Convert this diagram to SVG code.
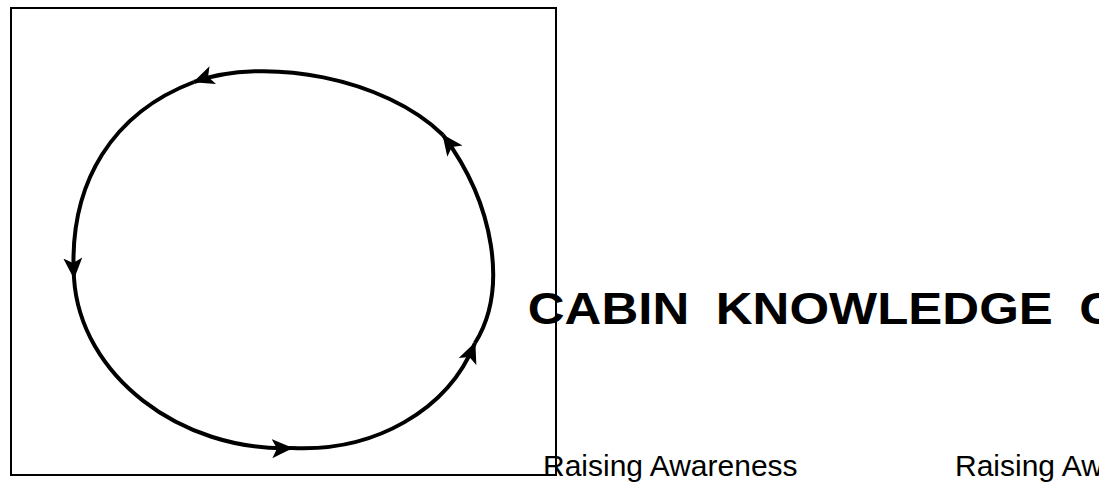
<svg xmlns="http://www.w3.org/2000/svg" width="1099" height="482" viewBox="0 0 1099 482">
  <style>
    .frame { fill: none; stroke: #000; stroke-width: 2; }
    .flow { fill: none; stroke: #000; stroke-width: 4; }
    .title { font-family: "Liberation Sans", Arial, sans-serif; font-weight: bold; font-size: 44.5px; fill: #000; word-spacing: 10.8px; }
    .label { font-family: "Liberation Sans", Arial, sans-serif; font-size: 30px; fill: #000; }
  </style>
  <defs>
    <marker id="arrow" markerUnits="userSpaceOnUse" viewBox="0 0 21 20" refX="20" refY="10" markerWidth="21" markerHeight="20" orient="auto">
      <path d="M21,10 L0,0.5 L5,10 L0,19.5 Z" fill="#000"/>
    </marker>
  </defs>
  <rect width="1099" height="482" fill="#fff"/>
  <g id="frame">
    <rect class="frame" x="11" y="8" width="545" height="467"/>
  </g>
  <g id="connectors">
    <path class="flow" marker-end="url(#arrow)" d="M443,135 C385,78 265,56 194,82"/>
    <path class="flow" marker-end="url(#arrow)" d="M194,82 C115,112 68,180 74,278"/>
    <path class="flow" marker-end="url(#arrow)" d="M74,278 C80,375 180,452 292,448"/>
    <path class="flow" marker-end="url(#arrow)" d="M292,448 C375,452 448,410 475,343"/>
    <path class="flow" marker-end="url(#arrow)" d="M475,343 C508,290 495,205 443,135"/>
  </g>
  <g id="title">
    <text class="title" transform="translate(527.8,323.5) scale(1.146,1)" x="0" y="0">CABIN KNOWLEDGE CYCLE</text>
  </g>
  <g id="label-1">
    <text class="label" x="543" y="476">Raising Awareness</text>
  </g>
  <g id="label-2">
    <text class="label" x="955" y="476">Raising Awareness</text>
  </g>
</svg>
